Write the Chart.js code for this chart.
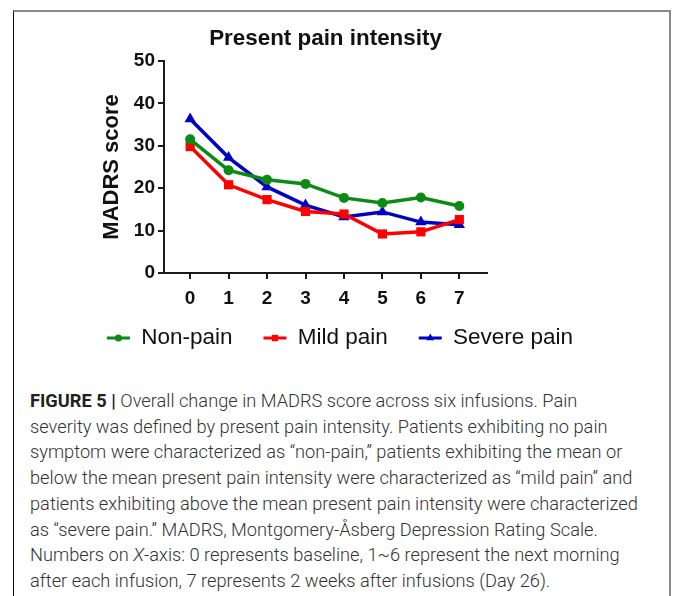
<!DOCTYPE html>
<html><head><meta charset="utf-8">
<script src="https://cdn.jsdelivr.net/npm/chart.js@4.4.0/dist/chart.umd.min.js"></script>
<style>
html,body{margin:0;padding:0;background:#fff;width:673px;height:596px;overflow:hidden;}
#frame{position:absolute;left:13px;top:10px;width:658px;height:620px;border-top:2px solid #8a8a8a;border-left:1px solid #111;border-right:2px solid #8a8a8a;box-sizing:border-box;}
#wrap{position:absolute;left:0;top:0;width:673px;height:372px;}
#cap{position:absolute;left:30px;top:388px;font-family:Roboto,'Liberation Sans',sans-serif;font-weight:300;font-size:16.5px;line-height:25.7px;color:#333;}
#cap div{white-space:nowrap;}
#cap b{font-weight:700;color:#231f20;}
</style></head>
<body>
<div id="frame"></div>
<div id="wrap"><canvas id="c" width="673" height="372" style="width:673px;height:372px"></canvas></div>
<div id="cap">
<div id="l1"><b>FIGURE 5 |</b> Overall change in MADRS score across six infusions. Pain</div>
<div>severity was defined by present pain intensity. Patients exhibiting no pain</div>
<div>symptom were characterized as “non-pain,” patients exhibiting the mean or</div>
<div>below the mean present pain intensity were characterized as “mild pain” and</div>
<div id="lw">patients exhibiting above the mean present pain intensity were characterized</div>
<div>as “severe pain.” MADRS, Montgomery-Åsberg Depression Rating Scale.</div>
<div>Numbers on <i>X</i>-axis: 0 represents baseline, 1~6 represent the next morning</div>
<div>after each infusion, 7 represents 2 weeks after infusions (Day 26).</div>
</div>
<script>
const categories = [0, 1, 2, 3, 4, 5, 6, 7];
const nonPain    = [31.5, 24.2, 22.0, 21.0, 17.7, 16.5, 17.8, 15.8];
const mildPain   = [29.8, 20.8, 17.3, 14.5, 13.9, 9.2, 9.7, 12.6];
const severePain = [36.3, 27.2, 20.3, 16.0, 13.2, 14.4, 12.0, 11.4];
const yTickValues = [0, 10, 20, 30, 40, 50];
const seriesNames = ['Non-pain', 'Mild pain', 'Severe pain'];
const chartTitle = 'Present pain intensity';
const yAxisTitle = 'MADRS score';

const FONT = "'Liberation Sans', Arial, Helvetica, sans-serif";
const INK = '#111';
const colors = ['#0b8a14', '#ff0000', '#0000c8'];
const styles = ['circle', 'rect', 'triangle'];
const radii = [5, 6.5, 6.5];
const legendRadii = [3.5, 4.5, 4.5];
const seriesVals = [nonPain, mildPain, severePain];

const datasets = seriesVals.map((vals, k) => ({
  label: seriesNames[k],
  data: categories.map((x, i) => ({x: x, y: vals[i]})),
  borderColor: colors[k],
  backgroundColor: colors[k],
  borderWidth: 3.5,
  pointStyle: styles[k],
  pointRadius: radii[k],
  pointHoverRadius: radii[k],
  pointBackgroundColor: colors[k],
  pointBorderColor: colors[k],
  pointBorderWidth: 0,
  tension: 0,
  legendRadius: legendRadii[k]
}));

const LEGEND_SHIFT = 11.25;
const layoutTweak = {
  id: 'layoutTweak',
  afterLayout(chart) {
    const t = chart.titleBlock;
    if (t) { t.left = chart.chartArea.left; t.right = chart.chartArea.right; t.width = t.right - t.left; }
    const lg = chart.legend;
    if (lg) { lg.top -= LEGEND_SHIFT; lg.bottom -= LEGEND_SHIFT; }
  }
};

const legendMarkers = {
  id: 'legendMarkers',
  afterDraw(chart) {
    const lg = chart.legend;
    if (!lg || !lg.legendHitBoxes) return;
    const ctx = chart.ctx;
    lg.legendHitBoxes.forEach((hb, i) => {
      const ds = chart.data.datasets[i];
      ctx.save();
      ctx.fillStyle = ds.borderColor;
      ctx.strokeStyle = ds.borderColor;
      Chart.helpers.drawPoint(ctx, {pointStyle: ds.pointStyle, radius: ds.legendRadius, borderWidth: 0, rotation: 0},
        hb.left + 23 / 2, hb.top + hb.height / 2);
      ctx.restore();
    });
  }
};

new Chart(document.getElementById('c'), {
  type: 'line',
  data: {datasets: datasets},
  plugins: [layoutTweak, legendMarkers],
  options: {
    responsive: false,
    animation: false,
    events: [],
    layout: {padding: {left: 7, right: 0, top: 0, bottom: 1.5}},
    plugins: {
      title: {display: true, text: chartTitle, color: INK,
        font: {family: FONT, size: 22.4, weight: 'bold'}, padding: {top: 25, bottom: 9}},
      legend: {display: true, position: 'bottom',
        labels: {boxWidth: 23, boxHeight: 3, padding: 31, color: INK,
          font: {family: FONT, size: 22.5},
          generateLabels(chart) {
            return Chart.defaults.plugins.legend.labels.generateLabels(chart).map(it => {
              it.lineWidth = 0; it.fillStyle = colors[it.datasetIndex]; it.strokeStyle = colors[it.datasetIndex];
              return it;
            });
          }}},
      tooltip: {enabled: false}
    },
    scales: {
      x: {type: 'linear', min: -0.68, max: 7.72,
        afterBuildTicks(s) { s.ticks = categories.map(v => ({value: v})); },
        afterFit(s) { s.height = 34; },
        ticks: {color: INK, font: {family: FONT, size: 19, weight: 'bold'}, padding: 8, maxRotation: 0, autoSkip: false},
        grid: {display: true, drawOnChartArea: false, drawTicks: true, tickLength: 6, color: '#1a1a1a', lineWidth: 2},
        border: {display: true, color: '#1a1a1a', width: 2}},
      y: {type: 'linear', min: 0, max: 50,
        afterBuildTicks(s) { s.ticks = yTickValues.map(v => ({value: v})); },
        afterFit(s) { s.width = 157; },
        ticks: {color: INK, font: {family: FONT, size: 19, weight: 'bold'}, padding: 3},
        grid: {display: true, drawOnChartArea: false, drawTicks: true, tickLength: 6, color: '#1a1a1a', lineWidth: 2},
        border: {display: true, color: '#1a1a1a', width: 2},
        title: {display: true, text: yAxisTitle, color: INK, font: {family: FONT, size: 22, weight: 'bold'}, padding: {top: 92, bottom: 0}}},
      yRight: {type: 'linear', position: 'right', display: true,
        afterFit(s) { s.width = 186; },
        ticks: {display: false}, grid: {display: false}, border: {display: false}}
    }
  }
});

function fitCaption() {
  const cap = document.getElementById('cap');
  cap.style.fontSize = '16.5px';
  const lw = document.getElementById('lw');
  const w = lw.getBoundingClientRect().width;
  const fs = 16.5 * 608 / w;
  cap.style.fontSize = fs.toFixed(2) + 'px';
}
fitCaption();
if (document.fonts && document.fonts.ready) document.fonts.ready.then(fitCaption);
</script>
</body></html>
